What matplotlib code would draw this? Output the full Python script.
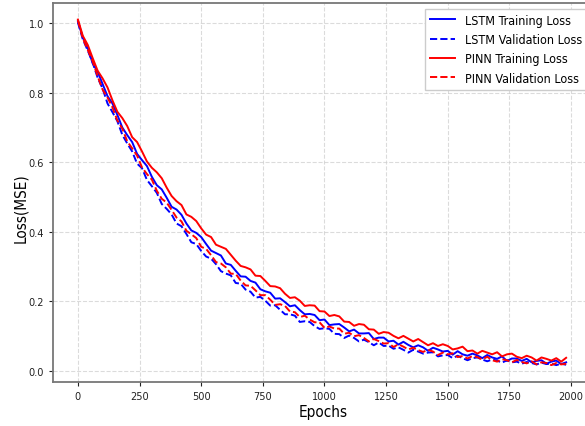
import numpy as np
import matplotlib
matplotlib.use("Agg")
import matplotlib.pyplot as plt

plt.rcParams["font.family"] = "DejaVu Sans"
plt.rcParams["font.stretch"] = "condensed"

# epochs sampled every 20
epochs = np.arange(0, 2000, 20)

pinn_train = [
    1.010, 0.963, 0.937, 0.899, 0.863, 0.841, 0.815, 0.778, 0.745, 0.727,
    0.704, 0.672, 0.658, 0.631, 0.602, 0.584, 0.571, 0.554, 0.527, 0.503,
    0.488, 0.477, 0.450, 0.443, 0.431, 0.410, 0.392, 0.385, 0.363, 0.357,
    0.351, 0.334, 0.317, 0.302, 0.298, 0.292, 0.274, 0.273, 0.259, 0.244,
    0.243, 0.238, 0.222, 0.210, 0.212, 0.202, 0.187, 0.189, 0.188, 0.172,
    0.171, 0.158, 0.161, 0.157, 0.142, 0.141, 0.130, 0.135, 0.133, 0.120,
    0.119, 0.107, 0.112, 0.110, 0.101, 0.094, 0.101, 0.093, 0.085, 0.092,
    0.083, 0.074, 0.080, 0.072, 0.077, 0.072, 0.062, 0.065, 0.070, 0.057,
    0.059, 0.050, 0.058, 0.053, 0.048, 0.054, 0.042, 0.048, 0.050, 0.041,
    0.037, 0.044, 0.039, 0.030, 0.039, 0.035, 0.030, 0.037, 0.027, 0.038,
]

lstm_train = [
    1.005, 0.959, 0.927, 0.884, 0.860, 0.825, 0.790, 0.769, 0.736, 0.700,
    0.678, 0.658, 0.624, 0.606, 0.589, 0.558, 0.534, 0.522, 0.498, 0.472,
    0.464, 0.449, 0.424, 0.404, 0.397, 0.385, 0.365, 0.346, 0.339, 0.332,
    0.309, 0.305, 0.288, 0.272, 0.271, 0.259, 0.254, 0.235, 0.229, 0.225,
    0.208, 0.209, 0.198, 0.186, 0.189, 0.175, 0.163, 0.164, 0.161, 0.146,
    0.148, 0.132, 0.134, 0.135, 0.125, 0.114, 0.119, 0.108, 0.108, 0.109,
    0.092, 0.096, 0.096, 0.085, 0.087, 0.076, 0.084, 0.075, 0.068, 0.074,
    0.068, 0.058, 0.067, 0.062, 0.056, 0.058, 0.047, 0.057, 0.048, 0.044,
    0.050, 0.045, 0.037, 0.046, 0.039, 0.035, 0.042, 0.029, 0.036, 0.036,
    0.029, 0.035, 0.025, 0.029, 0.031, 0.021, 0.027, 0.030, 0.020, 0.025,
]

pinn_val = [
    1.008, 0.956, 0.923, 0.890, 0.847, 0.809, 0.786, 0.758, 0.720, 0.697,
    0.660, 0.640, 0.619, 0.585, 0.566, 0.550, 0.518, 0.495, 0.484, 0.463,
    0.441, 0.430, 0.403, 0.393, 0.382, 0.357, 0.351, 0.333, 0.313, 0.309,
    0.298, 0.280, 0.279, 0.260, 0.246, 0.245, 0.232, 0.218, 0.218, 0.205,
    0.190, 0.192, 0.187, 0.171, 0.169, 0.155, 0.159, 0.148, 0.140, 0.140,
    0.124, 0.128, 0.122, 0.122, 0.107, 0.110, 0.100, 0.103, 0.095, 0.085,
    0.092, 0.086, 0.079, 0.080, 0.069, 0.077, 0.070, 0.062, 0.067, 0.060,
    0.055, 0.061, 0.056, 0.046, 0.053, 0.048, 0.051, 0.040, 0.043, 0.036,
    0.043, 0.040, 0.033, 0.041, 0.031, 0.027, 0.034, 0.031, 0.025, 0.032,
    0.026, 0.022, 0.028, 0.019, 0.025, 0.023, 0.017, 0.023, 0.019, 0.021,
]

lstm_val = [
    1.002, 0.953, 0.921, 0.886, 0.843, 0.812, 0.769, 0.744, 0.718, 0.679,
    0.654, 0.631, 0.596, 0.583, 0.549, 0.531, 0.512, 0.480, 0.466, 0.450,
    0.424, 0.416, 0.394, 0.370, 0.365, 0.345, 0.329, 0.323, 0.307, 0.287,
    0.280, 0.275, 0.253, 0.251, 0.234, 0.228, 0.211, 0.213, 0.202, 0.188,
    0.189, 0.176, 0.163, 0.163, 0.159, 0.141, 0.143, 0.141, 0.129, 0.121,
    0.123, 0.121, 0.107, 0.106, 0.095, 0.102, 0.095, 0.085, 0.090, 0.083,
    0.074, 0.082, 0.072, 0.073, 0.064, 0.068, 0.061, 0.053, 0.061, 0.056,
    0.050, 0.053, 0.054, 0.042, 0.045, 0.046, 0.037, 0.044, 0.037, 0.031,
    0.037, 0.039, 0.033, 0.028, 0.033, 0.030, 0.024, 0.031, 0.025, 0.027,
    0.021, 0.026, 0.023, 0.019, 0.024, 0.020, 0.021, 0.017, 0.021, 0.018,
]

xticks = [0, 250, 500, 750, 1000, 1250, 1500, 1750, 2000]
yticks = [0.0, 0.2, 0.4, 0.6, 0.8, 1.0]


fig = plt.figure(figsize=(5.85, 4.27), dpi=100)
# right spine sits just past the right edge of the image, as in the reference
ax = fig.add_axes([0.0906, 0.103, 0.9231, 0.8888])

ax.plot(epochs, lstm_train, color="blue", lw=1.4, label="LSTM Training Loss")
ax.plot(epochs, lstm_val, color="blue", lw=1.4, ls="--", label="LSTM Validation Loss")
ax.plot(epochs, pinn_train, color="red", lw=1.4, label="PINN Training Loss")
ax.plot(epochs, pinn_val, color="red", lw=1.4, ls="--", label="PINN Validation Loss")

ax.set_xlim(-101, 2089)
ax.set_ylim(-0.0316, 1.059)
ax.set_xticks(xticks)
ax.set_yticks(yticks)
ax.tick_params(labelsize=7.8, colors="#222222", length=3)
ax.grid(True, ls="--", color="#cccccc", alpha=0.7, lw=0.8)

for sp in ax.spines.values():
    sp.set_color("#777777")
    sp.set_linewidth(1.3)

ax.set_xlabel("Epochs", fontsize=11, labelpad=2)
ax.set_ylabel("Loss(MSE)", fontsize=11)
ax.yaxis.set_label_coords(-0.046, 0.46)

ax.legend(loc="upper right", fontsize=9, framealpha=1.0, edgecolor="#cccccc",
          fancybox=False, handlelength=2.0, labelspacing=0.5)

fig.savefig("out.png", dpi=100)
